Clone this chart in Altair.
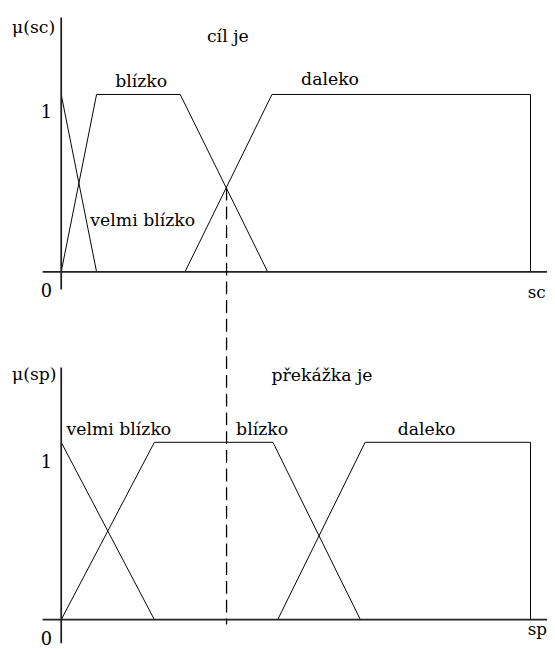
import altair as alt
import pandas as pd

# ---- data: membership functions (x in distance units 0..100, mu = degree) ----
sc_velmi_x = [0, 7.4]
sc_velmi_mu = [1, 0]
sc_blizko_x = [0, 7.4, 24.9, 43.2]
sc_blizko_mu = [0, 1, 1, 0]
sc_daleko_x = [25.9, 44.1, 98.2, 98.2]
sc_daleko_mu = [0, 1, 1, 0]

sp_velmi_x = [0, 19.5]
sp_velmi_mu = [1, 0]
sp_blizko_x = [0, 19.5, 44.3, 62.6]
sp_blizko_mu = [0, 1, 1, 0]
sp_daleko_x = [45.3, 63.6, 98.2, 98.2]
sp_daleko_mu = [0, 1, 1, 0]

# crisp input value (dashed line) and its membership at the crossing
sc_input_x = [34.6]
sc_input_mu = [0.474]

# extents of the drawn axes
x_axis_extent = [-3.9, 102.0]
top_mu_domain = [-0.1, 1.4333]
bot_mu_domain = [-0.1333, 1.4222]

# labels: text, x, mu
top_labels = ["\u03bc(sc)", "c\u00edl je", "bl\u00edzko", "daleko", "velmi bl\u00edzko"]
top_labels_x = [-10.3, 30.5, 11.3, 50.2, 6.1]
top_labels_mu = [1.344, 1.294, 1.044, 1.056, 0.261]
bot_labels = ["\u03bc(sp)", "p\u0159ek\u00e1\u017eka je", "velmi bl\u00edzko", "bl\u00edzko", "daleko"]
bot_labels_x = [-10.3, 44.0, 1.1, 36.6, 70.4]
bot_labels_mu = [1.35, 1.344, 1.039, 1.039, 1.039]

tick_labels = ["1", "0"]
tick_label_x = -3.1
top_tick_label_mu = [0.867, -0.144]
bot_tick_label_mu = [0.856, -0.144]

top_var = "sc"
top_var_pos = [97.6, -0.15]
bot_var = "sp"
bot_var_pos = [97.6, -0.089]


def lines_df(series):
    rows = []
    for name, xs, mus in series:
        for i, (x, m) in enumerate(zip(xs, mus)):
            rows.append({"series": name, "order": i, "x": x, "mu": m})
    return pd.DataFrame(rows)


top_df = lines_df([
    ("velmi", sc_velmi_x, sc_velmi_mu),
    ("blizko", sc_blizko_x, sc_blizko_mu),
    ("daleko", sc_daleko_x, sc_daleko_mu),
])
bot_df = lines_df([
    ("velmi", sp_velmi_x, sp_velmi_mu),
    ("blizko", sp_blizko_x, sp_blizko_mu),
    ("daleko", sp_daleko_x, sp_daleko_mu),
])

W = 493
XS = alt.Scale(domain=[0, 100], range=[0, 485], nice=False, zero=False)
SERIF = "DejaVu Serif"


def panel(df, mu_domain, mu_range, labels, lx, lmu, tick_mu, var, var_pos, extra=None):
    ys = alt.Scale(domain=mu_domain, range=mu_range, nice=False, zero=False)
    base_x = alt.X("x:Q", scale=XS, axis=None)
    yenc = alt.Y("mu:Q", scale=ys, axis=None)
    lines = alt.Chart(df).mark_line(color="black", strokeWidth=1).encode(
        x=base_x, y=yenc, detail="series:N", order="order:O",
    )
    xaxis = alt.Chart(pd.DataFrame({"x": [x_axis_extent[0]], "x2": [x_axis_extent[1]], "mu": [0]})).mark_rule(
        color="#222222", strokeWidth=1.8
    ).encode(x=base_x, x2="x2:Q", y=yenc)
    yaxis = alt.Chart(pd.DataFrame({"x": [0], "mu": [mu_domain[0]], "mu2": [mu_domain[1]]})).mark_rule(
        color="#222222", strokeWidth=1.8
    ).encode(x=base_x, y=yenc, y2="mu2:Q")
    lab_df = pd.DataFrame({"t": labels, "x": lx, "mu": lmu})
    texts = alt.Chart(lab_df).mark_text(
        font=SERIF, fontSize=17.5, align="left", baseline="alphabetic", color="black"
    ).encode(x=base_x, y=yenc, text="t:N")
    tick_df = pd.DataFrame({"t": tick_labels, "x": [tick_label_x] * 2, "mu": tick_mu})
    ticks = alt.Chart(tick_df).mark_text(
        font=SERIF, fontSize=18, align="center", baseline="alphabetic", color="black"
    ).encode(x=base_x, y=yenc, text="t:N")
    var_df = pd.DataFrame({"t": [var], "x": [var_pos[0]], "mu": [var_pos[1]]})
    vtext = alt.Chart(var_df).mark_text(
        font=SERIF, fontSize=17, align="left", baseline="alphabetic", color="black"
    ).encode(x=base_x, y=yenc, text="t:N")
    layers = [lines, xaxis, yaxis, texts, ticks, vtext]
    if extra is not None:
        layers.append(extra(yenc, base_x))
    return alt.layer(*layers)


def dashed(yenc, base_x):
    d = pd.DataFrame({"x": sc_input_x, "mu": sc_input_mu})
    return alt.Chart(d).mark_rule(color="black", strokeWidth=1.3, strokeDash=[13, 6]).encode(
        x=base_x, y=yenc, y2=alt.value(621)
    )


top = panel(top_df, top_mu_domain, [281, 5], top_labels, top_labels_x, top_labels_mu,
            top_tick_label_mu, top_var, top_var_pos, extra=dashed)
bot = panel(bot_df, bot_mu_domain, [640, 360], bot_labels, bot_labels_x, bot_labels_mu,
            bot_tick_label_mu, bot_var, bot_var_pos)

chart = alt.layer(top, bot).resolve_scale(y="independent").properties(
    width=W, height=641,
    background="white",
    autosize=alt.AutoSizeParams(type="none"),
    padding={"left": 54, "top": 0, "right": 0, "bottom": 0},
).configure_view(stroke=None)

chart.save("out.html", embed_options={"renderer": "svg", "actions": False})
